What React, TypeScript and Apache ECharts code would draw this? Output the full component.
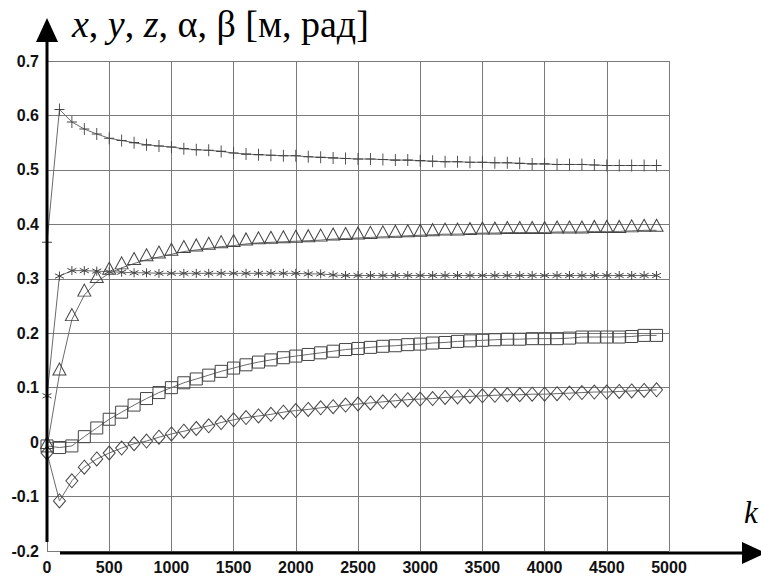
import React, { useEffect, useRef } from "react";
import * as echarts from "echarts";

const kValues = [0, 100, 200, 300, 400, 500, 600, 700, 800, 900, 1000, 1100, 1200, 1300, 1400, 1500, 1600, 1700, 1800, 1900, 2000, 2100, 2200, 2300, 2400, 2500, 2600, 2700, 2800, 2900, 3000, 3100, 3200, 3300, 3400, 3500, 3600, 3700, 3800, 3900, 4000, 4100, 4200, 4300, 4400, 4500, 4600, 4700, 4800, 4900];

const plusSeries = [0.367, 0.611, 0.588, 0.575, 0.566, 0.558, 0.554, 0.55, 0.546, 0.544, 0.542, 0.539, 0.537, 0.536, 0.534, 0.531, 0.529, 0.528, 0.527, 0.526, 0.526, 0.524, 0.523, 0.522, 0.521, 0.52, 0.52, 0.519, 0.518, 0.518, 0.517, 0.516, 0.515, 0.515, 0.514, 0.514, 0.513, 0.513, 0.512, 0.511, 0.511, 0.51, 0.51, 0.51, 0.509, 0.508, 0.508, 0.508, 0.508, 0.508];

const starSeries = [0.085, 0.305, 0.315, 0.315, 0.314, 0.313, 0.312, 0.311, 0.311, 0.31, 0.31, 0.31, 0.31, 0.31, 0.31, 0.31, 0.31, 0.31, 0.31, 0.31, 0.31, 0.309, 0.309, 0.307, 0.306, 0.306, 0.306, 0.306, 0.306, 0.306, 0.306, 0.306, 0.306, 0.306, 0.306, 0.306, 0.306, 0.306, 0.306, 0.306, 0.306, 0.306, 0.306, 0.306, 0.306, 0.306, 0.306, 0.306, 0.306, 0.306];

const triangleSeries = [-0.01, 0.125, 0.225, 0.27, 0.295, 0.31, 0.32, 0.328, 0.335, 0.34, 0.345, 0.35, 0.353, 0.356, 0.359, 0.361, 0.364, 0.366, 0.367, 0.368, 0.369, 0.37, 0.371, 0.373, 0.374, 0.375, 0.376, 0.377, 0.378, 0.379, 0.38, 0.381, 0.382, 0.382, 0.383, 0.384, 0.384, 0.385, 0.385, 0.385, 0.385, 0.386, 0.386, 0.386, 0.387, 0.387, 0.387, 0.388, 0.389, 0.389];

const squareSeries = [-0.007, -0.01, -0.007, 0.01, 0.026, 0.042, 0.055, 0.068, 0.08, 0.091, 0.1, 0.109, 0.116, 0.123, 0.13, 0.136, 0.142, 0.147, 0.151, 0.155, 0.158, 0.161, 0.164, 0.167, 0.17, 0.172, 0.174, 0.176, 0.177, 0.179, 0.18, 0.182, 0.183, 0.185, 0.186, 0.187, 0.188, 0.189, 0.189, 0.19, 0.19, 0.19, 0.191, 0.193, 0.193, 0.193, 0.193, 0.194, 0.196, 0.196];

const diamondSeries = [-0.02, -0.108, -0.071, -0.046, -0.031, -0.02, -0.011, -0.003, 0.002, 0.009, 0.015, 0.02, 0.025, 0.03, 0.036, 0.041, 0.045, 0.048, 0.051, 0.055, 0.058, 0.06, 0.063, 0.065, 0.068, 0.07, 0.072, 0.074, 0.076, 0.078, 0.079, 0.08, 0.082, 0.083, 0.084, 0.085, 0.086, 0.087, 0.087, 0.088, 0.088, 0.089, 0.09, 0.091, 0.092, 0.092, 0.093, 0.094, 0.095, 0.096];

const yTicks = { min: -0.2, max: 0.7, interval: 0.1 };
const xTicks = { min: 0, max: 5000, interval: 500 };

const PLUS = "path://M5,0 L5,12 M0,6 L10,6";
const STAR = "path://M5,0 L5,10 M0.7,2.5 L9.3,7.5 M0.7,7.5 L9.3,2.5";

function pairs(ys: number[]) {
  return kValues.map((k, i) => [k, ys[i]]);
}

export default function App() {
  const ref = useRef<HTMLDivElement>(null);
  useEffect(() => {
    if (!ref.current) return;
    const chart = echarts.init(ref.current, undefined, { renderer: "svg" });
    const lineStyle = { color: "#6a6a6a", width: 1 };
    const markerStyle = { color: "rgba(0,0,0,0)", borderColor: "#444", borderWidth: 1 };
    const mk = (name: string, data: number[], symbol: string, size: any, offset?: any) => ({
      name,
      type: "line",
      data: pairs(data),
      symbol,
      symbolSize: size,
      symbolOffset: offset || [0, 0],
      showSymbol: true,
      showAllSymbol: true,
      lineStyle,
      itemStyle: markerStyle,
      emphasis: { disabled: true },
      z: 3,
    });
    const labelFont = {
      fontFamily: "Liberation Sans, Arial",
      fontSize: 16,
      fontWeight: "bold",
      color: "#111",
    };
    chart.setOption({
      animation: false,
      backgroundColor: "#fff",
      grid: { left: 47, right: 92, top: 61, bottom: 25, outerBoundsMode: "none", containLabel: false },
      xAxis: {
        type: "value",
        min: xTicks.min,
        max: xTicks.max,
        interval: xTicks.interval,
        axisLine: { show: false },
        axisTick: { show: false },
        splitLine: { show: true, lineStyle: { color: "#7a7a7a", width: 1 } },
        axisLabel: {
          margin: 8,
          ...labelFont,
          formatter: (v: number) => String(Math.round(v)),
        },
      },
      yAxis: {
        type: "value",
        min: yTicks.min,
        max: yTicks.max,
        interval: yTicks.interval,
        axisLine: { show: false },
        axisTick: { show: false },
        splitLine: { show: true, lineStyle: { color: "#7a7a7a", width: 1 } },
        axisLabel: {
          margin: 8,
          ...labelFont,
          formatter: (v: number) => {
            const r = Math.round(v * 10) / 10;
            if (Math.abs(r) < 1e-9) return "0";
            return r.toFixed(1);
          },
        },
      },
      series: [
        mk("plus", plusSeries, PLUS, [10, 12]),
        mk("star", starSeries, STAR, [9, 9]),
        mk("triangle", triangleSeries, "triangle", [13, 12], [0, -5]),
        mk("square", squareSeries, "rect", [12, 12]),
        mk("diamond", diamondSeries, "diamond", [12, 14]),
      ],
      graphic: [
        { type: "line", shape: { x1: 47, y1: 542, x2: 47, y2: 38 }, style: { stroke: "#000", lineWidth: 3 }, z: 10 },
        { type: "polygon", shape: { points: [[36, 42], [47, 18], [58, 42]] }, style: { fill: "#000" }, z: 10 },
        { type: "line", shape: { x1: 60, y1: 553, x2: 746, y2: 553 }, style: { stroke: "#000", lineWidth: 3 }, z: 10 },
        { type: "polygon", shape: { points: [[742, 542], [766, 553], [742, 564]] }, style: { fill: "#000" }, z: 10 },
        {
          type: "text",
          x: 72,
          y: 5,
          z: 10,
          style: {
            text: "{i|x}{r|, }{i|y}{r|, }{i|z}{r|, α, β [м, рад]}",
            rich: {
              i: { fontFamily: "Liberation Serif, Times New Roman", fontStyle: "italic", fontSize: 38, fill: "#000" },
              r: { fontFamily: "Liberation Serif, Times New Roman", fontSize: 38, fill: "#000" },
            },
          },
        },
        {
          type: "text",
          x: 744,
          y: 497,
          z: 10,
          style: {
            text: "k",
            fontFamily: "Liberation Serif, Times New Roman",
            fontStyle: "italic",
            fontSize: 31,
            fill: "#000",
          },
        },
      ],
    });
    return () => chart.dispose();
  }, []);
  return (
    <div
      ref={ref}
      style={{ position: "fixed", left: 0, top: 0, width: 761, height: 576, background: "#fff" }}
    />
  );
}
